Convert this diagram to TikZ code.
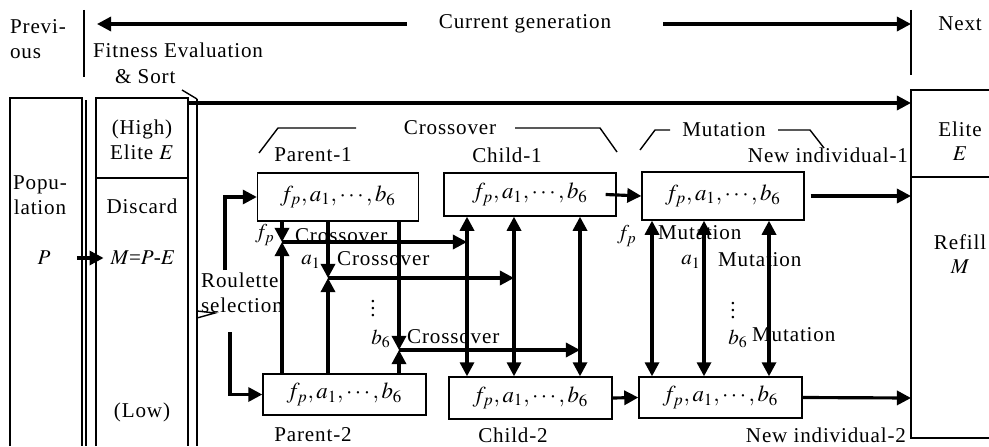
\documentclass[tikz,border=0pt]{standalone}
\usepackage{mathptmx}
\usepackage{fontspec}
\setmainfont{Liberation Serif}[LetterSpace=4]
\usetikzlibrary{arrows.meta, positioning, calc}

\begin{document}
\begin{tikzpicture}[x=0.02cm, y=-0.02cm,
  >={Triangle[length=8pt, width=8pt]},
  box/.style={draw, line width=0.8pt, inner sep=0pt, font=\fontsize{13}{15}\selectfont},
  conn/.style={->, line width=1.8pt},
  lbl/.style={font=\fontsize{12}{14}\selectfont, inner sep=1pt},
  thinline/.style={line width=0.8pt}]

\useasboundingbox (0,0) rectangle (989,446);

% Header: generations
\node[lbl, align=left, anchor=west] (prev) at (8,39) {Previ-\\ous};
\draw[thinline] (84,10) -- (84,77);
\draw[thinline] (911,10) -- (911,75);
\node[lbl] (curgen) at (525,24) {Current generation};
\coordinate (genL) at (97,24);
\coordinate (genR) at (911,24);
\draw[conn] ([xshift=-0.6cm]curgen.west) -- (genL);
\draw[conn] ([xshift=1cm]curgen.east) -- (genR);
\node[lbl] (next) at (960,24) {Next};

% Fitness evaluation
\node[lbl, align=left, anchor=west] (fitness) at (91,63) {Fitness Evaluation\\[1pt]\hspace{1.05em}\& Sort};
\draw[thinline] (182,90) -- (197,99);

% Population column
\draw[thinline] (10,446) -- (10,98) -- (82,98) -- (82,446);
\draw[thinline] (86,100) -- (86,446);
\node[lbl, align=center] (popu) at (40,195) {Popu-\\lation};
\node[lbl] (P) at (44,258) {$P$};

% Sorted column
\draw[thinline] (96,446) -- (96,98) -- (188,98) -- (188,446);
\draw[thinline] (96,178) -- (188,178);
\draw[thinline] (197,99) -- (197,446);
\node[lbl, align=center] (high) at (142,140) {(High)\\Elite $E$};
\node[lbl] (discard) at (142,206) {Discard};
\node[lbl] (mpe) at (143,258) {$M$=$P$-$E$};
\node[lbl] (low) at (142,412) {(Low)};
\draw[conn, shorten <=0.66cm] (P.center) -- ([xshift=-0.1cm]mpe.west);

% Next generation column
\draw[thinline] (989,90) -- (911,90) -- (911,438) -- (989,438);
\draw[thinline] (911,177) -- (989,177);
\node[lbl, align=center] (elite) at (960,141) {Elite\\$E$};
\node[lbl, align=center] (refill) at (960,254) {Refill\\$M$};

% Elite passes straight on
\coordinate (eliteL) at (188,103);
\coordinate (eliteR) at (911,103);
\draw[conn] (eliteL) -- (eliteR);

% Brackets
\node[lbl] (xbrack) at (450,128) {Crossover};
\draw[thinline] (259,153) -- (278,128) -- (356,128);
\draw[thinline] (515,128) -- (600,128) -- (617,152);
\node[lbl] (mbrack) at (724,130) {Mutation};
\draw[thinline] (640,150) -- (655,130) -- (670,130);
\draw[thinline] (778,130) -- (810,130) -- (824,148);

% Individuals
\node[box, minimum width=3.22cm, minimum height=0.96cm] (par1) at (338,197) {$f_p, a_1, \cdots, b_6$};
\node[box, minimum width=3.44cm, minimum height=0.86cm] (ch1) at (530,194.5) {$f_p, a_1, \cdots, b_6$};
\node[box, minimum width=3.24cm, minimum height=0.96cm] (new1) at (723,196) {$f_p, a_1, \cdots, b_6$};
\node[box, minimum width=3.26cm, minimum height=0.82cm] (par2) at (344.5,394.5) {$f_p, a_1, \cdots, b_6$};
\node[box, minimum width=3.26cm, minimum height=0.84cm] (ch2) at (530.5,398) {$f_p, a_1, \cdots, b_6$};
\node[box, minimum width=3.26cm, minimum height=0.82cm] (new2) at (720.5,397.5) {$f_p, a_1, \cdots, b_6$};

\node[lbl] (par1lbl) at (313,155) {Parent-1};
\node[lbl] (ch1lbl) at (507,155) {Child-1};
\node[lbl, anchor=east] (new1lbl) at (910,155) {New individual-1};
\node[lbl] (par2lbl) at (313,435) {Parent-2};
\node[lbl] (ch2lbl) at (513,435) {Child-2};
\node[lbl, anchor=east] (new2lbl) at (908,435) {New individual-2};

% Roulette selection
\node[lbl, align=left] (roul) at (242,293) {Roulette\\selection};
\draw[thinline] (197,311) -- (215,313) -- (197,318);
\coordinate (r1) at (225,270);
\coordinate (r2) at (230,332);
\draw[conn] (r1) |- (par1.west);
\draw[conn] (r2) |- (par2.west);

% Crossover
\coordinate (cc1) at (467,0);
\coordinate (cc2) at (514,0);
\coordinate (cc3) at (580,0);
\foreach \nm/\x/\y/\cc in {fp/282/242/cc1, a/328/278/cc2, b/399/350/cc3} {
  \coordinate (x\nm) at (\x,\y);
  \draw[conn] (x\nm |- par1.south) -- (x\nm);
  \draw[conn] (x\nm |- par2.north) -- (x\nm);
  \draw[conn] (x\nm) -- (x\nm -| \cc);
}
\foreach \cc in {cc1, cc2, cc3}
  \draw[conn, <->] (\cc |- ch1.south) -- (\cc |- ch2.north);

\node[lbl] (xfplbl) at (265,235) {$f_p$};
\node[lbl, anchor=west] (xfptxt) at (293,236) {Crossover};
\node[lbl] (xalbl) at (311,262) {$a_1$};
\node[lbl, anchor=west] (xatxt) at (335,259) {Crossover};
\node[lbl] (xdots) at (373,303) {$\vdots$};
\node[lbl] (xblbl) at (381,339) {$b_6$};
\node[lbl, anchor=west] (xbtxt) at (405,337) {Crossover};

% Mutation
\coordinate (mc1) at (652,0);
\coordinate (mc2) at (704,0);
\coordinate (mc3) at (769,0);
\foreach \mc in {mc1, mc2, mc3}
  \draw[conn, <->] (\mc |- new1.south) -- (\mc |- new2.north);

\node[lbl] (mfplbl) at (627,236) {$f_p$};
\node[lbl, anchor=west] (mfptxt) at (656,233) {Mutation};
\node[lbl] (malbl) at (691,262) {$a_1$};
\node[lbl, anchor=west] (matxt) at (716,260) {Mutation};
\node[lbl] (mdots) at (733,305) {$\vdots$};
\node[lbl] (mblbl) at (738,339) {$b_6$};
\node[lbl, anchor=west] (mbtxt) at (750,335) {Mutation};

% Passing on
\draw[conn] ([xshift=-0.22cm]ch1.east) -- (new1.west);
\draw[conn] (ch2.east) -- (new2.west);
\coordinate (in1) at (911,196);
\coordinate (in2) at (911,398);
\draw[conn] ([xshift=0.12cm]new1.east) -- (in1);
\draw[conn] (new2.east) -- (in2);

\end{tikzpicture}
\end{document}
